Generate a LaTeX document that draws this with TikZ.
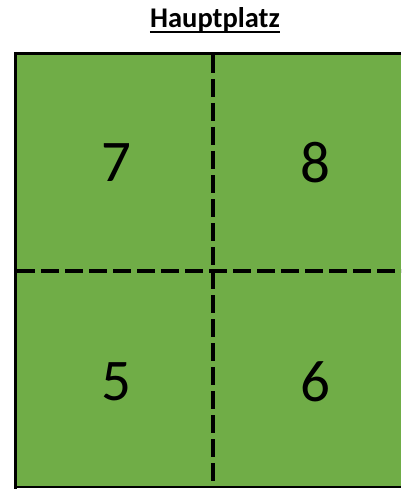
\documentclass[tikz,border=0pt]{standalone}
\usepackage{fontspec}
\setmainfont{Carlito}
\definecolor{platzgruen}{HTML}{70AD47}
\begin{document}
\begin{tikzpicture}[x=1pt,y=-1pt]
	% Styles
	\tikzstyle{rand}=[black,line width=3.2pt]
	\tikzstyle{trenn}=[black,line width=3.4pt,dash pattern=on 18pt off 6pt]
	\tikzstyle{feld}=[black,font=\fontsize{59}{59}\selectfont]
	\tikzstyle{titel}=[black,inner sep=0pt,anchor=base,font=\fontsize{28.5}{28.5}\selectfont\bfseries]
	% Dimensions
	\def\Links{14}
	\def\Rechts{401}
	\def\Oben{52}
	\def\Unten{487}
	\def\Mitte{213}
	\def\Quer{271}
	\useasboundingbox (0,0) rectangle (401,489);
	% Platz
	\fill[platzgruen] (\Links,\Oben) rectangle (\Rechts,\Unten);
	\coordinate (LO) at (\Links,\Oben+1.5);
	\coordinate (RO) at (\Rechts,\Oben+1.5);
	\coordinate (LU) at (\Links,\Unten);
	\coordinate (RU) at (\Rechts,\Unten);
	\coordinate (LL) at (\Links+1.5,\Oben);
	\coordinate (LB) at (\Links+1.5,\Unten+1.5);
	\coordinate (MO) at (\Mitte,\Oben+3);
	\coordinate (MU) at (\Mitte,\Unten);
	\coordinate (QL) at (\Links+3,\Quer);
	\coordinate (QR) at (\Rechts,\Quer);
	\draw[rand] (LO)--(RO);
	\draw[rand,line width=2pt] (LU)--(RU);
	\draw[rand] (LL)--(LB);
	\draw[trenn] (MO)--(MU);
	\draw[trenn] (QL)--(QR);
	% Felder
	\node[feld] (f7) at (116,163) {7};
	\node[feld] (f8) at (315,163) {8};
	\node[feld] (f5) at (116,382) {5};
	\node[feld] (f6) at (315,382) {6};
	% Titel
	\node[titel] (haupt) at (215,28) {Hauptplatz};
	\draw[black,line width=2pt] ([yshift=-4.5pt]haupt.base west)--([yshift=-4.5pt]haupt.base east);
\end{tikzpicture}
\end{document}
